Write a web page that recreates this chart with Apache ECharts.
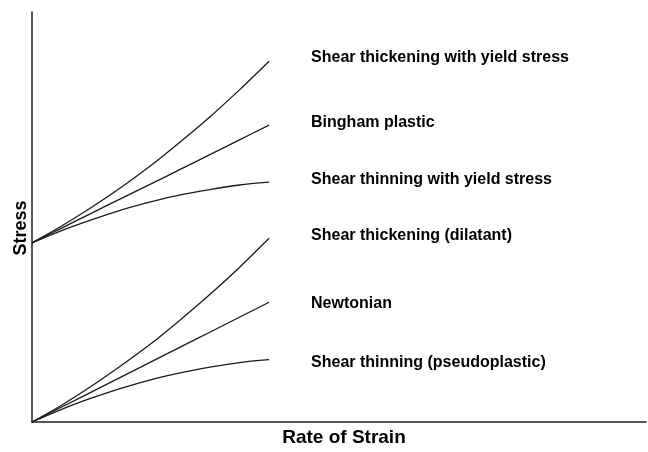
<!DOCTYPE html>
<html>
<head>
<meta charset="utf-8">
<script src="https://cdn.jsdelivr.net/npm/echarts@6/dist/echarts.min.js"></script>
<style>
  html, body { margin: 0; padding: 0; background: #fff; }
  #chart { width: 648px; height: 452px; }
</style>
</head>
<body>
<div id="chart"></div>
<script>
// rate of strain (arbitrary units, curves stop at 1)
const rate = [0, 0.125, 0.25, 0.375, 0.5, 0.625, 0.75, 0.875, 1]

// stress values (y axis 0..100)
const thickYield = [43.7, 47.8, 52.3, 57.2, 62.5, 68.3, 74.4, 81.0, 88.0]
const bingham = [43.7, 47.3, 50.9, 54.5, 58.0, 61.6, 65.2, 68.8, 72.4]
const thinYield = [43.7, 46.7, 49.3, 51.7, 53.7, 55.4, 56.7, 57.8, 58.5]
const dilatant = [0, 4.1, 8.7, 13.7, 19.0, 24.9, 31.1, 37.7, 44.8]
const newtonian = [0, 3.65, 7.3, 10.95, 14.6, 18.25, 21.9, 25.55, 29.2]
const pseudo = [0, 3.1, 5.8, 8.2, 10.3, 12.0, 13.4, 14.5, 15.2]

const names = [
  'Shear thickening with yield stress',
  'Bingham plastic',
  'Shear thinning with yield stress',
  'Shear thickening (dilatant)',
  'Newtonian',
  'Shear thinning (pseudoplastic)'
]
const curves = [thickYield, bingham, thinYield, dilatant, newtonian, pseudo]
// small vertical nudge of each label relative to its curve end
const labelShift = [-4, -3, -3, -3, 1, 3]

const chart = echarts.init(document.getElementById('chart'))

const series = curves.map(function (vals, i) {
  return {
    name: names[i],
    type: 'line',
    data: rate.map(function (x, j) { return [x, vals[j]] }),
    smooth: 0.3,
    symbol: 'none',
    lineStyle: { color: '#1a1a1a', width: 1.3 },
    endLabel: {
      show: true,
      formatter: '{a}',
      distance: 42,
      offset: [0, labelShift[i]],
      color: '#000',
      fontFamily: 'Liberation Sans',
      fontWeight: 'bold',
      fontSize: 16
    }
  }
})

const option = {
  animation: false,
  backgroundColor: '#fff',
  grid: { left: 32, right: 2, top: 12, bottom: 25 },
  xAxis: {
    type: 'value',
    min: 0,
    max: 2.59,
    name: 'Rate of Strain',
    nameLocation: 'middle',
    nameGap: 6,
    nameTextStyle: {
      color: '#000',
      fontFamily: 'Liberation Sans',
      fontWeight: 'bold',
      fontSize: 19,
      padding: [0, 0, 0, 10]
    },
    axisLine: { show: true, lineStyle: { color: '#222', width: 1.5 } },
    axisTick: { show: false },
    axisLabel: { show: false },
    splitLine: { show: false }
  },
  yAxis: {
    type: 'value',
    min: 0,
    max: 100,
    name: 'Stress',
    nameLocation: 'middle',
    nameRotate: 90,
    nameGap: 2,
    nameTextStyle: {
      color: '#000',
      fontFamily: 'Liberation Sans',
      fontWeight: 'bold',
      fontSize: 18,
      padding: [0, 22, 0, 0]
    },
    axisLine: { show: true, lineStyle: { color: '#222', width: 1.5 } },
    axisTick: { show: false },
    axisLabel: { show: false },
    splitLine: { show: false }
  },
  series: series
}

chart.setOption(option)
</script>
</body>
</html>
